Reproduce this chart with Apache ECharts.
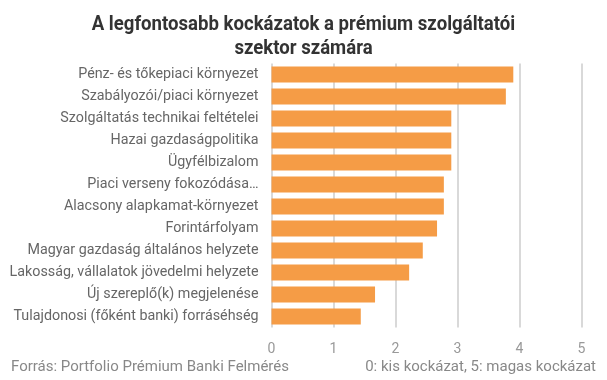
<!DOCTYPE html>
<html><head><meta charset="utf-8">
<script src="https://cdn.jsdelivr.net/npm/echarts@6/dist/echarts.min.js"></script>
<style>html,body{margin:0;padding:0;background:#fff}#c{width:607px;height:380px}</style>
</head><body><div id="c"></div>
<script>
const categories = [
  "Pénz- és tőkepiaci környezet",
  "Szabályozói/piaci környezet",
  "Szolgáltatás technikai feltételei",
  "Hazai gazdaságpolitika",
  "Ügyfélbizalom",
  "Piaci verseny fokozódása…",
  "Alacsony alapkamat-környezet",
  "Forintárfolyam",
  "Magyar gazdaság általános helyzete",
  "Lakosság, vállalatok jövedelmi helyzete",
  "Új szereplő(k) megjelenése",
  "Tulajdonosi (főként banki) forráséhség"
];
const values = [3.9, 3.78, 2.9, 2.9, 2.9, 2.78, 2.78, 2.67, 2.44, 2.22, 1.67, 1.44];
const titleLine1 = "A legfontosabb kockázatok a prémium szolgáltatói";
const titleLine2 = "szektor számára";
const sourceText = "Forrás: Portfolio Prémium Banki Felmérés";
const noteText = "0: kis kockázat, 5: magas kockázat";

const chart = echarts.init(document.getElementById('c'), null, {renderer: 'canvas'});
const titleFont = 'bold 21px Roboto';
chart.setOption({
  animation: false,
  backgroundColor: '#fff',
  graphic: [
    {type: 'text', x: 303.5, y: 24.5, scaleX: 0.885,
     style: {text: titleLine1, font: titleFont, fill: '#333', align: 'center', verticalAlign: 'middle'}},
    {type: 'text', x: 303.5, y: 49, scaleX: 0.885,
     style: {text: titleLine2, font: titleFont, fill: '#333', align: 'center', verticalAlign: 'middle'}},
    {type: 'text', x: 11, y: 367, style: {text: sourceText, font: '15px Roboto', fill: '#888', align: 'left', verticalAlign: 'middle'}},
    {type: 'text', x: 596, y: 367, style: {text: noteText, font: '15px Roboto', fill: '#888', align: 'right', verticalAlign: 'middle'}}
  ],
  grid: {left: 271.5, right: 25.5, top: 63.5, bottom: 52.5, containLabel: false},
  xAxis: {
    type: 'value', min: 0, max: 5, interval: 1,
    axisLine: {show: false}, axisTick: {show: false},
    splitLine: {lineStyle: {color: '#ccc', width: 1.5}},
    axisLabel: {color: '#999', fontSize: 14, fontFamily: 'Roboto', margin: 15}
  },
  yAxis: {
    type: 'category', data: categories, inverse: true,
    axisLine: {show: false}, axisTick: {show: false},
    axisLabel: {color: '#666', fontSize: 14.3, fontFamily: 'Roboto', margin: 13}
  },
  series: [{
    type: 'bar', data: values, barCategoryGap: '27%',
    itemStyle: {color: '#f59c46'}
  }]
});
</script></body></html>
